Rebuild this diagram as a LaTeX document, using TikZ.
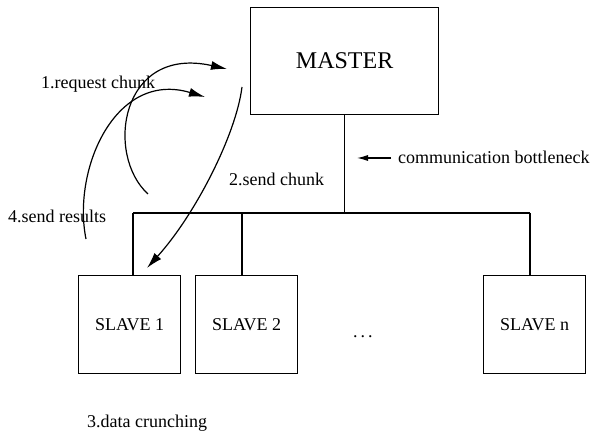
\documentclass[tikz,border=0pt]{standalone}
\usepackage{fontspec}
\setmainfont{Liberation Serif}
\usetikzlibrary{arrows.meta}
\begin{document}
\begin{tikzpicture}[x=1pt,y=-1pt,
  box/.style={draw,line width=1.2pt,inner sep=0pt,anchor=north west},
  slavebox/.style={box,minimum width=102pt,minimum height=98pt,font=\fontsize{18}{20}\selectfont},
  lbl/.style={font=\fontsize{18}{20}\selectfont,inner sep=0pt,anchor=base west},
  wire/.style={line width=1.2pt},
  arr/.style={line width=1.2pt,-{Latex[length=16pt,width=9pt]}},
  smallarr/.style={line width=1.2pt,-{Latex[length=11pt,width=6pt]}}]
\useasboundingbox (0,0) rectangle (606,435);
% boxes
\node[box,minimum width=188pt,minimum height=107pt,font=\fontsize{24}{26}\selectfont] (master) at (250,7) {MASTER};
\node[slavebox] (s1) at (78,275) {SLAVE 1};
\node[slavebox] (s2) at (195,275) {SLAVE 2};
\node[slavebox] (sn) at (483,275) {SLAVE n};
\node[lbl] (dots) at (353,338) {.\hspace{3pt}.\hspace{3pt}.};
% bus
\coordinate (busL) at (133,213);
\coordinate (busR) at (530,213);
\coordinate (bus2) at (242,213);
\draw[wire] (busL) -- (busR);
\draw[wire] (master.south) -- (master.south |- busL);
\draw[wire] (busL) -- (busL |- s1.north);
\draw[wire] (bus2) -- (bus2 |- s2.north);
\draw[wire] (busR) -- (busR |- sn.north);
% labels
\node[lbl] (l1) at (41,89) {1.request chunk};
\node[lbl] (l4) at (8,223) {4.send results};
\node[lbl] (l2) at (229,186) {2.send chunk};
\node[lbl] (l3) at (87,428) {3.data crunching};
\node[lbl] (lb) at (398,164) {communication bottleneck};
% bottleneck arrow
\coordinate (bnA) at (391,158);
\coordinate (bnB) at (357,158);
\draw[smallarr] (bnA) -- (bnB);
% curves
\coordinate (aS) at (148,194);
\coordinate (aE) at (227,69);
\draw[arr] (aS) .. controls (105,155) and (120,45) .. (aE);
\coordinate (bS) at (86,239);
\coordinate (bE) at (205,97);
\draw[arr] (bS) .. controls (72,170) and (115,70) .. (bE);
\coordinate (cS) at (242,87);
\coordinate (cE) at (147,268);
\draw[arr] (cS) .. controls (236,135) and (195,215) .. (cE);
\end{tikzpicture}
\end{document}
